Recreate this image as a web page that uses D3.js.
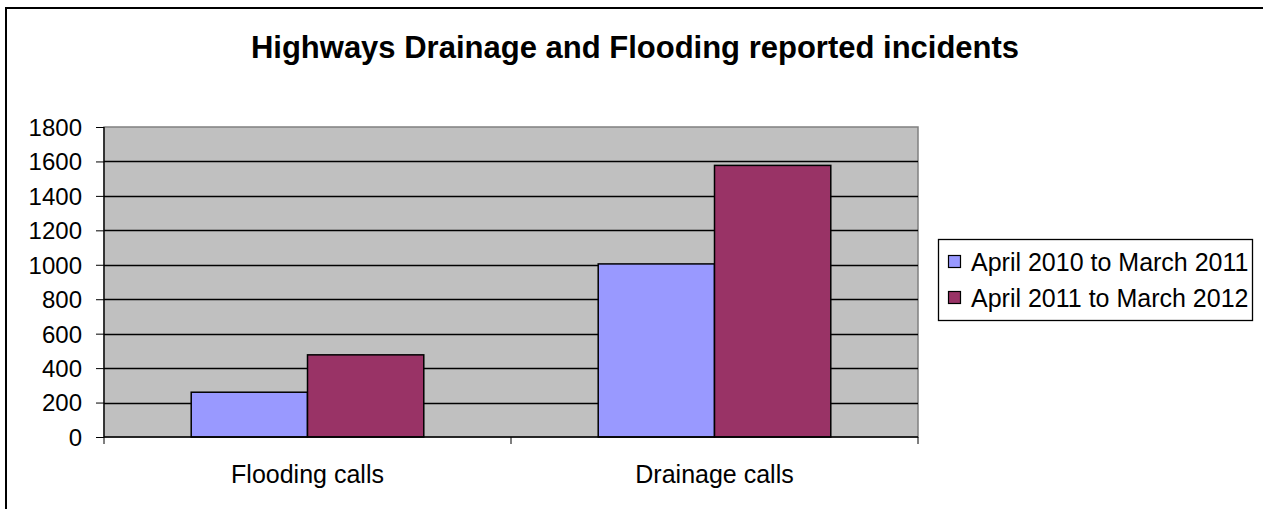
<!DOCTYPE html>
<html>
<head>
<meta charset="utf-8">
<script src="https://cdn.jsdelivr.net/npm/d3@7/dist/d3.min.js"></script>
<style>
  html, body { margin: 0; padding: 0; background: #fff; }
  svg { display: block; font-family: Arial, "Liberation Sans", sans-serif; }
</style>
</head>
<body>
<svg id="chart" width="1263" height="509"></svg>
<script>
const categories = ["Flooding calls", "Drainage calls"];
const seriesNames = ["April 2010 to March 2011", "April 2011 to March 2012"];
const series2010 = [260, 1005];
const series2011 = [477, 1577];
const yTicks = [0, 200, 400, 600, 800, 1000, 1200, 1400, 1600, 1800];
const colors = ["#9999FF", "#993366"];

const FONT = "Arial, 'Liberation Sans', sans-serif";
const svg = d3.select("#chart");
const W = 1263, H = 509;

// outer chart border (cropped: only left and top visible)
svg.append("rect").attr("x", 6).attr("y", 8).attr("width", W + 20).attr("height", H + 20)
  .attr("fill", "#fff").attr("stroke", "#000").attr("stroke-width", 2);

const plot = { left: 104, top: 127, right: 918, bottom: 437 };

const x = d3.scaleBand().domain(categories).range([plot.left, plot.right]).paddingInner(0).paddingOuter(0);
const y = d3.scaleLinear().domain([0, 1800]).range([plot.bottom, plot.top]);

// title
svg.append("text").attr("x", 635).attr("y", 58).attr("text-anchor", "middle")
  .attr("font-size", 31).attr("font-weight", "bold").attr("font-family", FONT)
  .text("Highways Drainage and Flooding reported incidents");

// plot background
svg.append("rect").attr("x", plot.left).attr("y", plot.top)
  .attr("width", plot.right - plot.left).attr("height", plot.bottom - plot.top)
  .attr("fill", "#C0C0C0").attr("stroke", "#808080").attr("stroke-width", 1.5);

// gridlines
svg.append("g").selectAll("line").data(yTicks.filter(d => d > 0 && d < 1800)).join("line")
  .attr("x1", plot.left).attr("x2", plot.right)
  .attr("y1", d => Math.round(y(d)) + 0.5).attr("y2", d => Math.round(y(d)) + 0.5)
  .attr("stroke", "#000").attr("stroke-width", 1.3);

// bars
const data = categories.map((c, i) => ({ cat: c, vals: [series2010[i], series2011[i]] }));
const bw = x.bandwidth() / 3.5;
const groups = svg.append("g").selectAll("g").data(data).join("g");
groups.selectAll("rect").data(d => d.vals.map((v, j) => ({ cat: d.cat, v, j }))).join("rect")
  .attr("x", d => x(d.cat) + x.bandwidth() / 2 - bw + d.j * bw)
  .attr("y", d => y(d.v))
  .attr("width", bw)
  .attr("height", d => y(0) - y(d.v))
  .attr("fill", d => colors[d.j])
  .attr("stroke", "#000").attr("stroke-width", 1.5);

// y axis
const yAxis = d3.axisLeft(y).tickValues(yTicks).tickFormat(d3.format("d")).tickSize(8).tickPadding(14);
const gy = svg.append("g").attr("transform", `translate(${plot.left},0)`).call(yAxis);
gy.attr("font-size", 24).attr("font-family", FONT);
gy.selectAll("text").attr("fill", "#000").attr("dy", "0.35em");
gy.selectAll("line").attr("stroke", "#000");
gy.select(".domain").attr("stroke", "#000").attr("stroke-width", 1.3).attr("d", `M0,${plot.top}V${plot.bottom}`);

// x axis
const xAxis = d3.axisBottom(x).tickSize(0).tickPadding(0);
const gx = svg.append("g").attr("transform", `translate(0,${plot.bottom})`).call(xAxis);
gx.attr("font-size", 25).attr("font-family", FONT);
gx.selectAll("text").attr("fill", "#000").attr("y", 46).attr("dy", 0);
gx.select(".domain").attr("stroke", "#000").attr("stroke-width", 1.3).attr("d", `M${plot.left},0H${plot.right}`);
// category boundary ticks
const boundaries = [plot.left, x(categories[1]), plot.right];
gx.append("g").selectAll("line").data(boundaries).join("line")
  .attr("x1", d => d).attr("x2", d => d).attr("y1", 0).attr("y2", 7)
  .attr("stroke", "#000").attr("stroke-width", 1);

// legend
const lg = svg.append("g");
lg.append("rect").attr("x", 938.5).attr("y", 239.5).attr("width", 314).attr("height", 81)
  .attr("fill", "#fff").attr("stroke", "#000").attr("stroke-width", 1.3);
const items = lg.selectAll("g.item").data(seriesNames).join("g").attr("class", "item")
  .attr("transform", (d, i) => `translate(948,${262 + i * 36})`);
items.append("rect").attr("x", 0.5).attr("y", -6.5).attr("width", 12).attr("height", 12)
  .attr("fill", (d, i) => colors[i]).attr("stroke", "#000").attr("stroke-width", 1.2);
items.append("text").attr("x", 23).attr("y", 9)
  .attr("font-size", 25).attr("font-family", FONT).text(d => d);
</script>
</body>
</html>
